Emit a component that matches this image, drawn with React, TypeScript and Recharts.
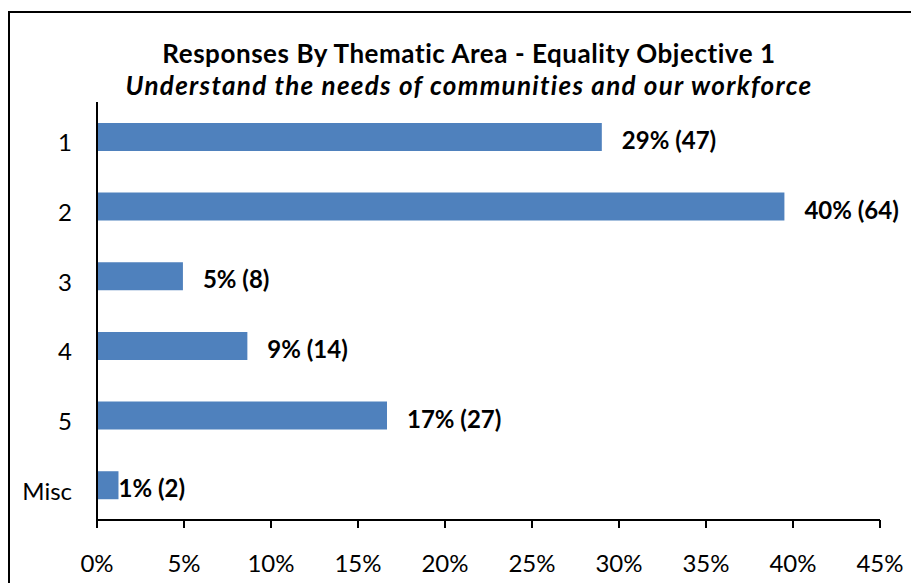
import { BarChart, Bar, XAxis, YAxis, LabelList } from 'recharts';

const areas = ['1', '2', '3', '4', '5', 'Misc'];
const responses = [47, 64, 8, 14, 27, 2];
const xTicks = [0, 5, 10, 15, 20, 25, 30, 35, 40, 45];
const bandEdges = [0, 1, 2, 3, 4, 5, 6];

const total = responses.reduce((a, b) => a + b, 0);
const data = areas.map((area, i) => ({
  area,
  count: responses[i],
  share: (responses[i] / total) * 100,
}));

const FONT = 'Lato, "Open Sans", sans-serif';
const BAR_COLOR = '#4F81BD';

const renderLabel = (props: any) => {
  const { x, y, width, height, index } = props;
  const d = data[index];
  const gap = d.area === 'Misc' ? 0 : 20;
  return (
    <text
      x={x + width + gap}
      y={y + height / 2 + 12}
      fontFamily={FONT}
      fontSize={24}
      fontWeight="bold"
      fill="#000"
    >
      {`${Math.round(d.share)}% (${d.count})`}
    </text>
  );
};

export default function App() {
  return (
    <div style={{ position: 'relative', width: 911, height: 575, overflow: 'hidden', background: '#fff' }}>
      <div
        style={{
          position: 'absolute',
          left: 0,
          top: 3,
          width: 940,
          height: 620,
          border: '2px solid #000',
          boxSizing: 'border-box',
        }}
      />
      <div
        style={{
          position: 'absolute',
          left: 0,
          top: 29,
          width: 922,
          textAlign: 'center',
          fontFamily: FONT,
          fontWeight: 'bold',
          fontSize: 26,
          lineHeight: '32px',
          color: '#000',
          whiteSpace: 'nowrap',
        }}
      >
        <div style={{ letterSpacing: 0.55 }}>Responses By Thematic Area - Equality Objective 1</div>
        <div style={{ fontStyle: 'italic', letterSpacing: 1.3 }}>
          Understand the needs of communities and our workforce
        </div>
      </div>
      <div style={{ position: 'absolute', left: 0, top: 0 }}>
        <BarChart
          width={911}
          height={575}
          data={data}
          layout="vertical"
          margin={{ top: 94, right: 39, left: 29, bottom: 33 }}
          barCategoryGap="30%"
        >
          <XAxis
            type="number"
            dataKey="share"
            domain={[0, 45]}
            ticks={xTicks}
            tickFormatter={(v) => `${v}%`}
            axisLine={{ stroke: '#000', strokeWidth: 2 }}
            tickLine={{ stroke: '#000', strokeWidth: 2 }}
            tickSize={8}
            tickMargin={27}
            height={30}
            tick={{ fill: '#000', fontSize: 24, fontFamily: FONT }}
            interval={0}
          />
          <YAxis
            yAxisId="edges"
            type="number"
            domain={[0, 6]}
            ticks={bandEdges}
            width={0}
            axisLine={false}
            tick={false}
            tickLine={{ stroke: '#000', strokeWidth: 2 }}
            tickSize={8}
          />
          <YAxis
            type="category"
            dataKey="area"
            width={60}
            axisLine={{ stroke: '#000', strokeWidth: 2 }}
            tickLine={false}
            tickSize={8}
            tickMargin={17}
            tick={{ fill: '#000', fontSize: 24, fontFamily: FONT, dy: 6 }}
            interval={0}
          />
          <Bar dataKey="share" fill={BAR_COLOR} isAnimationActive={false}>
            <LabelList dataKey="share" content={renderLabel} />
          </Bar>
        </BarChart>
      </div>
    </div>
  );
}
